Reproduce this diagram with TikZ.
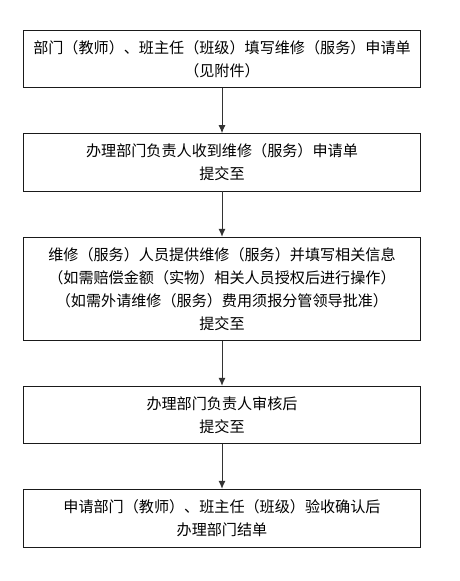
\documentclass[tikz,border=0pt]{standalone}
\usepackage{fontspec}
\usepackage{xcolor}
\usepackage{tikz}
\usetikzlibrary{positioning,arrows.meta}
\newfontfamily\cjk{Noto Sans CJK SC}
\definecolor{BoxLine}{HTML}{1A1A1A}
\definecolor{ArrowGray}{HTML}{333333}
\tikzset{
  stepbox/.style={draw=BoxLine,line width=0.9pt,fill=white,
    minimum width=397pt,text width=392pt,
    font=\cjk\fontsize{15.1}{23}\selectfont,
    align=center,inner sep=0pt},
  flow/.style={line width=1.0pt,draw=ArrowGray,-{Latex[length=8pt,width=7pt]}},
}
\begin{document}
\begin{tikzpicture}[x=1pt,y=1pt]
  \useasboundingbox (0,0) rectangle (460,-581);
  \node[stepbox,minimum height=56.6pt] (s1) at (222,-59.0) {部门（教师）、班主任（班级）填写维修（服务）申请单\\（见附件）};
  \node[stepbox,minimum height=57.3pt] (s2) at (222,-162.3) {办理部门负责人收到维修（服务）申请单\\提交至};
  \node[stepbox,minimum height=103pt] (s3) at (222,-288.8) {维修（服务）人员提供维修（服务）并填写相关信息\\（如需赔偿金额（实物）相关人员授权后进行操作）\\（如需外请维修（服务）费用须报分管领导批准）\\提交至};
  \node[stepbox,minimum height=57pt] (s4) at (222,-414.8) {办理部门负责人审核后\\提交至};
  \node[stepbox,minimum height=58pt] (s5) at (222,-518.3) {申请部门（教师）、班主任（班级）验收确认后\\办理部门结单};
  \draw[flow] (s1.south) -- (s2.north);
  \draw[flow] (s2.south) -- (s3.north);
  \draw[flow] (s3.south) -- (s4.north);
  \draw[flow] (s4.south) -- (s5.north);
\end{tikzpicture}
\end{document}
